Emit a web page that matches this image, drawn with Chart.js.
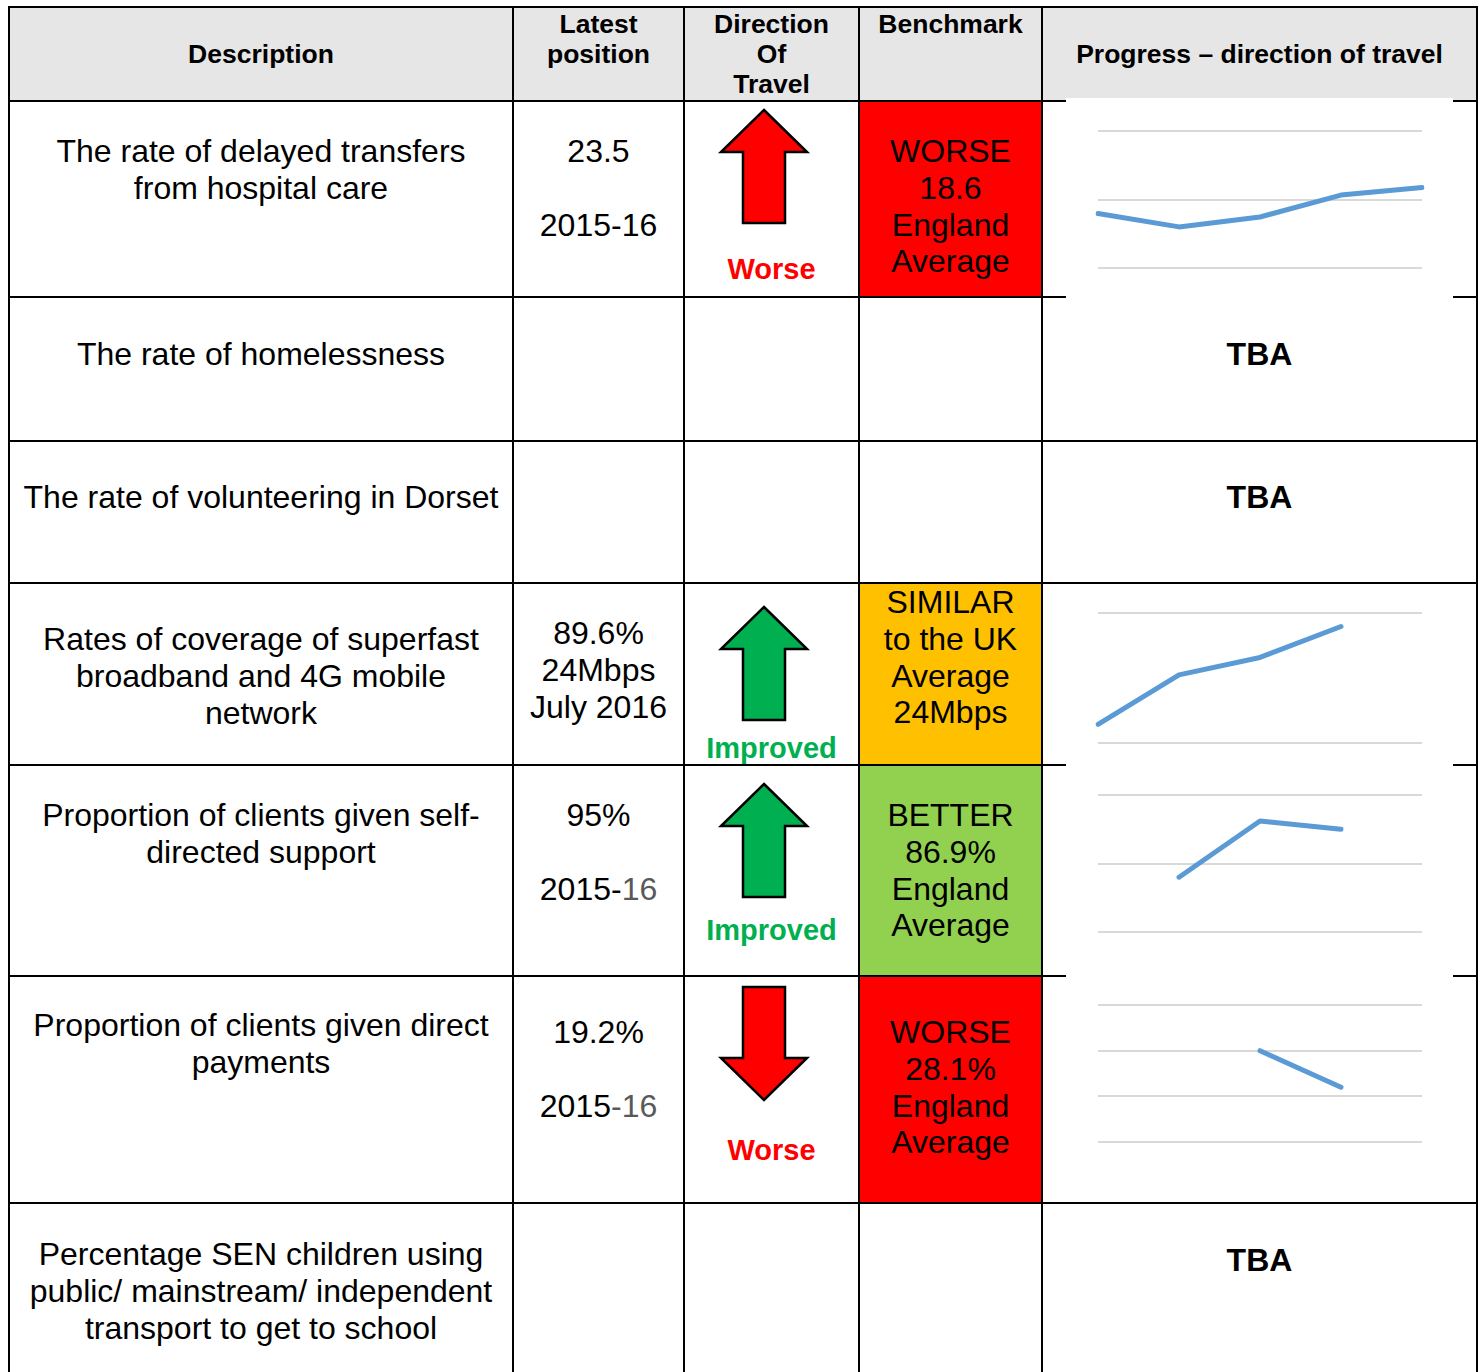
<!DOCTYPE html>
<html>
<head>
<meta charset="utf-8">
<title>Progress - direction of travel</title>
<script src="https://cdn.jsdelivr.net/npm/chart.js@4.4.0/dist/chart.umd.min.js"></script>
<style>
body { margin: 0; background: #fff; font-family: "Liberation Sans", Arial, sans-serif; color: #000; }
#page { position: relative; width: 1482px; height: 1372px; overflow: hidden; }
.fill { position: absolute; }
.line { position: absolute; background: #000; z-index: 2; }
.txt { position: absolute; text-align: center; font-size: 32px; line-height: 36.8px; white-space: nowrap; z-index: 3; }
.hd { font-weight: bold; font-size: 26.5px; line-height: 30px; }
.lbl { font-weight: bold; font-size: 29px; line-height: 33px; }
.tba { font-weight: bold; }
.spark { position: absolute; z-index: 4; background: #fff; }
svg { position: absolute; left: 0; top: 0; z-index: 3; }
</style>
</head>
<body>
<div id="page">
  <!-- cell fills -->
  <div class="fill" style="left:8px;top:6px;width:1470px;height:95px;background:#e7e6e6"></div>
  <div class="fill" style="left:858px;top:100px;width:184px;height:198px;background:#ff0000"></div>
  <div class="fill" style="left:858px;top:582px;width:184px;height:184px;background:#ffc000"></div>
  <div class="fill" style="left:858px;top:764px;width:184px;height:212px;background:#92d050"></div>
  <div class="fill" style="left:858px;top:975px;width:184px;height:229px;background:#ff0000"></div>

  <!-- grid lines of the table -->
  <div class="line" style="left:8px;top:6px;width:1470px;height:2px"></div>
  <div class="line" style="left:8px;top:100px;width:1470px;height:2px"></div>
  <div class="line" style="left:8px;top:296px;width:1470px;height:2px"></div>
  <div class="line" style="left:8px;top:440px;width:1470px;height:2px"></div>
  <div class="line" style="left:8px;top:582px;width:1470px;height:2px"></div>
  <div class="line" style="left:8px;top:764px;width:1470px;height:2px"></div>
  <div class="line" style="left:8px;top:975px;width:1470px;height:2px"></div>
  <div class="line" style="left:8px;top:1202px;width:1470px;height:2px"></div>
  <div class="line" style="left:8px;top:6px;width:2px;height:1366px"></div>
  <div class="line" style="left:512px;top:6px;width:2px;height:1366px"></div>
  <div class="line" style="left:683px;top:6px;width:2px;height:1366px"></div>
  <div class="line" style="left:858px;top:6px;width:2px;height:1366px"></div>
  <div class="line" style="left:1041px;top:6px;width:2px;height:1366px"></div>
  <div class="line" style="left:1476px;top:6px;width:2px;height:1366px"></div>

  <!-- header -->
  <div class="txt hd" style="left:10px;width:502px;top:39px">Description</div>
  <div class="txt hd" style="left:514px;width:169px;top:9px">Latest<br>position</div>
  <div class="txt hd" style="left:685px;width:173px;top:9px">Direction<br>Of<br>Travel</div>
  <div class="txt hd" style="left:860px;width:181px;top:9px">Benchmark</div>
  <div class="txt hd" style="left:1043px;width:433px;top:39px">Progress – direction of travel</div>

  <!-- row 1 -->
  <div class="txt" style="left:10px;width:502px;top:133px">The rate of delayed transfers<br>from hospital care</div>
  <div class="txt" style="left:514px;width:169px;top:133px">23.5<br><br>2015-16</div>
  <div class="txt lbl" style="left:685px;width:173px;top:253px;color:#ff0000">Worse</div>
  <div class="txt" style="left:860px;width:181px;top:133px">WORSE<br>18.6<br>England<br>Average</div>

  <!-- row 2 -->
  <div class="txt" style="left:10px;width:502px;top:336px">The rate of homelessness</div>
  <div class="txt tba" style="left:1043px;width:433px;top:336px">TBA</div>

  <!-- row 3 -->
  <div class="txt" style="left:10px;width:502px;top:479px">The rate of volunteering in Dorset</div>
  <div class="txt tba" style="left:1043px;width:433px;top:479px">TBA</div>

  <!-- row 4 -->
  <div class="txt" style="left:10px;width:502px;top:621px">Rates of coverage of superfast<br>broadband and 4G mobile<br>network</div>
  <div class="txt" style="left:514px;width:169px;top:615px">89.6%<br>24Mbps<br>July 2016</div>
  <div class="txt lbl" style="left:685px;width:173px;top:732px;color:#00b050">Improved</div>
  <div class="txt" style="left:860px;width:181px;top:584px">SIMILAR<br>to the UK<br>Average<br>24Mbps</div>

  <!-- row 5 -->
  <div class="txt" style="left:10px;width:502px;top:797px">Proportion of clients given self-<br>directed support</div>
  <div class="txt" style="left:514px;width:169px;top:797px">95%<br><br>2015-<span style="color:#595959">16</span></div>
  <div class="txt lbl" style="left:685px;width:173px;top:914px;color:#00b050">Improved</div>
  <div class="txt" style="left:860px;width:181px;top:797px">BETTER<br>86.9%<br>England<br>Average</div>

  <!-- row 6 -->
  <div class="txt" style="left:10px;width:502px;top:1007px">Proportion of clients given direct<br>payments</div>
  <div class="txt" style="left:514px;width:169px;top:1014px">19.2%<br><br>2015<span style="color:#595959">-16</span></div>
  <div class="txt lbl" style="left:685px;width:173px;top:1134px;color:#ff0000">Worse</div>
  <div class="txt" style="left:860px;width:181px;top:1014px">WORSE<br>28.1%<br>England<br>Average</div>

  <!-- row 7 -->
  <div class="txt" style="left:10px;width:502px;top:1236px">Percentage SEN children using<br>public/ mainstream/ independent<br>transport to get to school</div>
  <div class="txt tba" style="left:1043px;width:433px;top:1242px">TBA</div>

  <!-- direction arrows -->
  <svg width="1482" height="1372">
    <polygon points="764,110 807,152 785,152 785,223 743,223 743,152 721,152" fill="#ff0000" stroke="#000" stroke-width="2.5"/>
    <polygon points="764,607 807,649 785,649 785,720 743,720 743,649 721,649" fill="#00b050" stroke="#000" stroke-width="2.5"/>
    <polygon points="764,784 807,826 785,826 785,897 743,897 743,826 721,826" fill="#00b050" stroke="#000" stroke-width="2.5"/>
    <polygon points="743,987 785,987 785,1058 807,1058 764,1100 721,1058 743,1058" fill="#ff0000" stroke="#000" stroke-width="2.5"/>
  </svg>

  <!-- sparklines -->
  <canvas id="spark1" class="spark" width="387" height="201" style="left:1066px;top:98px"></canvas>
  <canvas id="spark2" class="spark" width="387" height="179" style="left:1066px;top:585px"></canvas>
  <canvas id="spark3" class="spark" width="387" height="200" style="left:1066px;top:764px"></canvas>
  <canvas id="spark4" class="spark" width="387" height="200" style="left:1066px;top:974px"></canvas>
</div>

<script>
var years = ['2011-12', '2012-13', '2013-14', '2014-15', '2015-16'];

var delayedTransfers = [15.9, 12.0, 14.9, 21.3, 23.5];
var delayedTicks = [0, 20, 40];

var broadbandCoverage = [14.4, 52.4, 65.8, 89.6, null];
var broadbandTicks = [0, 100];

var selfDirected = [null, 88.0, 96.2, 95.0, null];
var selfDirectedTicks = [80, 90, 100];

var directPayments = [null, null, 20.0, 19.2, null];
var directPaymentsTicks = [18, 19, 20, 21];

function makeSpark(id, values, ticks, padTop, padBottom) {
    var ctx = document.getElementById(id).getContext('2d');
    return new Chart(ctx, {
        type: 'line',
        data: {
            labels: years,
            datasets: [{
                data: values,
                borderColor: '#5b9bd5',
                borderWidth: 5,
                borderCapStyle: 'round',
                borderJoinStyle: 'round',
                pointRadius: 0,
                tension: 0,
                spanGaps: false
            }]
        },
        options: {
            responsive: false,
            animation: false,
            devicePixelRatio: 1,
            layout: { padding: { left: 32, right: 31, top: padTop, bottom: padBottom } },
            plugins: { legend: { display: false }, tooltip: { enabled: false } },
            scales: {
                x: { display: false },
                y: {
                    min: ticks[0],
                    max: ticks[ticks.length - 1],
                    afterBuildTicks: function (scale) {
                        scale.ticks = ticks.map(function (v) { return { value: v }; });
                    },
                    ticks: { display: false },
                    border: { display: false },
                    grid: { color: '#d9d9d9', lineWidth: 2, drawTicks: false }
                }
            }
        }
    });
}

makeSpark('spark1', delayedTransfers, delayedTicks, 33, 31);
makeSpark('spark2', broadbandCoverage, broadbandTicks, 28, 21);
makeSpark('spark3', selfDirected, selfDirectedTicks, 31, 32);
makeSpark('spark4', directPayments, directPaymentsTicks, 31, 32);
</script>
</body>
</html>
